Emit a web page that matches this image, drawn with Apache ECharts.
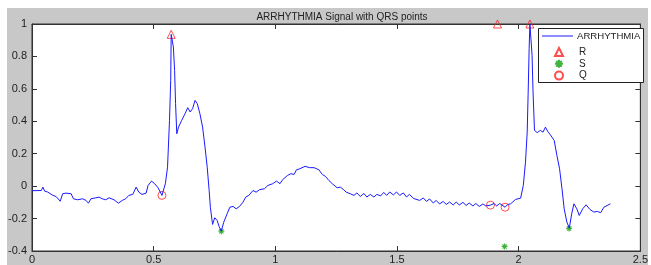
<!DOCTYPE html>
<html>
<head>
<meta charset="utf-8">
<script src="https://cdn.jsdelivr.net/npm/echarts@6/dist/echarts.min.js"></script>
<style>
  html, body { margin: 0; padding: 0; background: #fff; }
  #wrap { position: relative; width: 651px; height: 265px; }
  #fig { position: absolute; left: 7px; top: 8px; width: 641px; height: 257px; background: #c8c8c8; }
  #ecg { position: absolute; left: 0; top: 0; width: 651px; height: 265px; }
</style>
</head>
<body>
<div id="wrap">
  <div id="fig"></div>
  <div id="ecg"></div>
</div>
<script>
// signal samples (time in s, amplitude)
var sigT = [0.000,0.038,0.045,0.052,0.064,0.072,0.086,0.099,0.116,0.126,
  0.140,0.161,0.170,0.187,0.208,0.222,0.232,0.242,0.262,0.276,
  0.289,0.303,0.317,0.337,0.355,0.371,0.385,0.398,0.414,0.428,
  0.439,0.452,0.469,0.477,0.491,0.504,0.518,0.534,0.548,0.557,
  0.565,0.570,0.572,0.581,0.586,0.590,0.595,0.602,0.615,0.629,
  0.640,0.650,0.660,0.670,0.679,0.690,0.701,0.711,0.720,0.728,
  0.733,0.742,0.751,0.761,0.769,0.778,0.788,0.802,0.813,0.826,
  0.839,0.853,0.867,0.878,0.891,0.908,0.921,0.935,0.955,0.969,
  0.989,1.005,1.019,1.030,1.050,1.064,1.077,1.087,1.100,1.108,
  1.122,1.141,1.159,1.179,1.193,1.206,1.220,1.234,1.254,1.267,
  1.281,1.291,1.308,1.323,1.335,1.349,1.364,1.376,1.390,1.405,
  1.417,1.433,1.445,1.458,1.470,1.485,1.498,1.511,1.526,1.539,
  1.551,1.568,1.576,1.593,1.608,1.621,1.634,1.649,1.661,1.675,
  1.690,1.702,1.716,1.731,1.743,1.756,1.771,1.784,1.797,1.812,
  1.824,1.838,1.853,1.865,1.884,1.898,1.910,1.922,1.944,1.955,
  1.967,1.987,2.008,2.019,2.028,2.035,2.039,2.043,2.046,2.055,
  2.059,2.065,2.076,2.089,2.100,2.110,2.119,2.130,2.146,2.157,
  2.168,2.178,2.187,2.198,2.208,2.218,2.227,2.239,2.249,2.263,
  2.277,2.293,2.309,2.323,2.337,2.350,2.377];
var sigV = [-0.028,-0.027,-0.006,-0.031,-0.036,-0.047,-0.057,-0.064,-0.093,-0.047,
  -0.043,-0.047,-0.078,-0.084,-0.078,-0.088,-0.105,-0.078,-0.072,-0.068,
  -0.078,-0.084,-0.072,-0.084,-0.105,-0.088,-0.078,-0.057,-0.051,-0.006,
  -0.037,-0.051,-0.043,0.004,0.031,0.015,-0.010,-0.057,0.015,0.117,
  0.405,0.652,0.936,0.858,0.714,0.509,0.323,0.364,0.405,0.447,
  0.484,0.457,0.478,0.529,0.509,0.447,0.364,0.241,0.117,-0.027,
  -0.130,-0.236,-0.195,-0.212,-0.249,-0.278,-0.222,-0.170,-0.130,-0.125,
  -0.140,-0.125,-0.099,-0.068,-0.057,-0.027,-0.037,-0.022,-0.016,0.004,
  0.015,0.031,0.015,0.040,0.066,0.077,0.072,0.101,0.107,0.097,
  0.122,0.114,0.114,0.101,0.072,0.060,0.035,0.015,-0.010,-0.006,
  -0.022,-0.037,-0.047,-0.057,-0.042,-0.064,-0.045,-0.067,-0.051,-0.067,
  -0.051,-0.060,-0.039,-0.057,-0.036,-0.054,-0.036,-0.057,-0.042,-0.067,
  -0.051,-0.076,-0.064,-0.088,-0.073,-0.094,-0.079,-0.104,-0.088,-0.110,
  -0.094,-0.113,-0.098,-0.116,-0.098,-0.116,-0.100,-0.119,-0.104,-0.122,
  -0.107,-0.125,-0.110,-0.122,-0.117,-0.107,-0.122,-0.107,-0.130,-0.113,
  -0.109,-0.082,-0.074,0.004,0.148,0.333,0.580,0.848,1.002,0.807,
  0.580,0.344,0.330,0.344,0.333,0.364,0.338,0.317,0.282,0.190,
  0.107,-0.016,-0.140,-0.222,-0.259,-0.170,-0.109,-0.140,-0.181,-0.140,
  -0.115,-0.144,-0.160,-0.156,-0.164,-0.130,-0.109];

// detected points
var rPoints = [[0.572, 0.936], [1.913, 1.0], [2.046, 1.0]];
var sPoints = [[0.778, -0.278], [1.942, -0.372], [2.207, -0.261]];
var qPoints = [[0.534, -0.057], [1.884, -0.117], [1.944, -0.130]];

var xTicks = [0, 0.5, 1, 1.5, 2, 2.5];
var yTicks = [-0.4, -0.2, 0, 0.2, 0.4, 0.6, 0.8, 1];

var signal = [];
for (var i = 0; i < sigT.length; i++) {
  signal.push([sigT[i], sigV[i]]);
}

var star = 'path://M0,-5L0,5M-5,0L5,0M-3.5,-3.5L3.5,3.5M-3.5,3.5L3.5,-3.5';
var fontFam = 'Liberation Sans, Arial, sans-serif';
var labelFont = { color: '#222', fontSize: 11, fontFamily: fontFam };

var chart = echarts.init(document.getElementById('ecg'));
var option = {
  backgroundColor: 'transparent',
  animation: false,
  title: {
    text: 'ARRHYTHMIA Signal with QRS points',
    left: 337, top: 7, textAlign: 'center',
    textStyle: { color: '#222', fontSize: 10, fontWeight: 'normal', fontFamily: fontFam }
  },
  grid: {
    left: 32, top: 24, right: 5, bottom: 14,
    containLabel: false,
    show: true, backgroundColor: '#fff', borderColor: '#333', borderWidth: 1
  },
  graphic: [{
    type: 'rect', z: 10,
    shape: { x: 538.5, y: 28.5, width: 105, height: 54 },
    style: { fill: '#fff', stroke: '#222', lineWidth: 1 }
  }],
  legend: [{
    z: 20, data: [{ name: 'ARRHYTHMIA', icon: 'rect' }],
    left: 542, top: 31, padding: 0,
    itemWidth: 31, itemHeight: 1,
    textStyle: { color: '#222', fontSize: 9.6, fontFamily: fontFam, padding: [0, 0, 0, -1] }
  }, {
    z: 20, data: ['R', 'S', 'Q'], orient: 'vertical',
    left: 554, top: 47, padding: 0,
    itemWidth: 8, itemHeight: 8, itemGap: 1.8,
    textStyle: { color: '#222', fontSize: 10, fontFamily: fontFam, padding: [0, 0, 0, 11] }
  }],
  xAxis: [{
    type: 'value', min: 0, max: 2.5, interval: 0.5, position: 'bottom',
    axisLine: { onZero: false, lineStyle: { color: '#333' } },
    axisTick: { inside: true, length: 5, lineStyle: { color: '#333' } },
    axisLabel: Object.assign({ margin: 3, formatter: function (v) { return xTicks.indexOf(v) >= 0 ? String(v) : ''; } }, labelFont),
    splitLine: { show: false }
  }, {
    type: 'value', min: 0, max: 2.5, interval: 0.5, position: 'top',
    axisLine: { onZero: false, lineStyle: { color: '#333' } },
    axisTick: { inside: true, length: 5, lineStyle: { color: '#333' } },
    axisLabel: { show: false }, splitLine: { show: false }
  }],
  yAxis: [{
    type: 'value', min: -0.4, max: 1, interval: 0.2, position: 'left',
    axisLine: { show: true, onZero: false, lineStyle: { color: '#333' } },
    axisTick: { show: true, inside: true, length: 5, lineStyle: { color: '#333' } },
    axisLabel: Object.assign({ margin: 5, formatter: function (v) {
      var r = Math.round(v * 10) / 10;
      return yTicks.indexOf(r) >= 0 ? String(r) : '';
    } }, labelFont),
    splitLine: { show: false }
  }, {
    type: 'value', min: -0.4, max: 1, interval: 0.2, position: 'right',
    axisLine: { show: true, onZero: false, lineStyle: { color: '#333' } },
    axisTick: { show: true, inside: true, length: 5, lineStyle: { color: '#333' } },
    axisLabel: { show: false }, splitLine: { show: false }
  }],
  series: [{
    name: 'ARRHYTHMIA', type: 'line', data: signal,
    symbol: 'none', color: '#1a1aff',
    lineStyle: { color: '#1a1aff', width: 1 }
  }, {
    name: 'R', type: 'scatter', data: rPoints, clip: false,
    symbol: 'triangle', symbolSize: 8, color: '#ff2020',
    itemStyle: { color: 'rgba(0,0,0,0)', borderColor: '#ff2020', borderWidth: 1 }
  }, {
    name: 'S', type: 'scatter', data: sPoints, clip: false,
    symbol: star, symbolSize: 6, color: '#10a010',
    itemStyle: { color: 'rgba(0,0,0,0)', borderColor: '#10a010', borderWidth: 1.2 }
  }, {
    name: 'Q', type: 'scatter', data: qPoints, clip: false,
    symbol: 'circle', symbolSize: 8, color: '#ff2020',
    itemStyle: { color: 'rgba(0,0,0,0)', borderColor: '#ff2020', borderWidth: 1 }
  }]
};
chart.setOption(option);
</script>
</body>
</html>
